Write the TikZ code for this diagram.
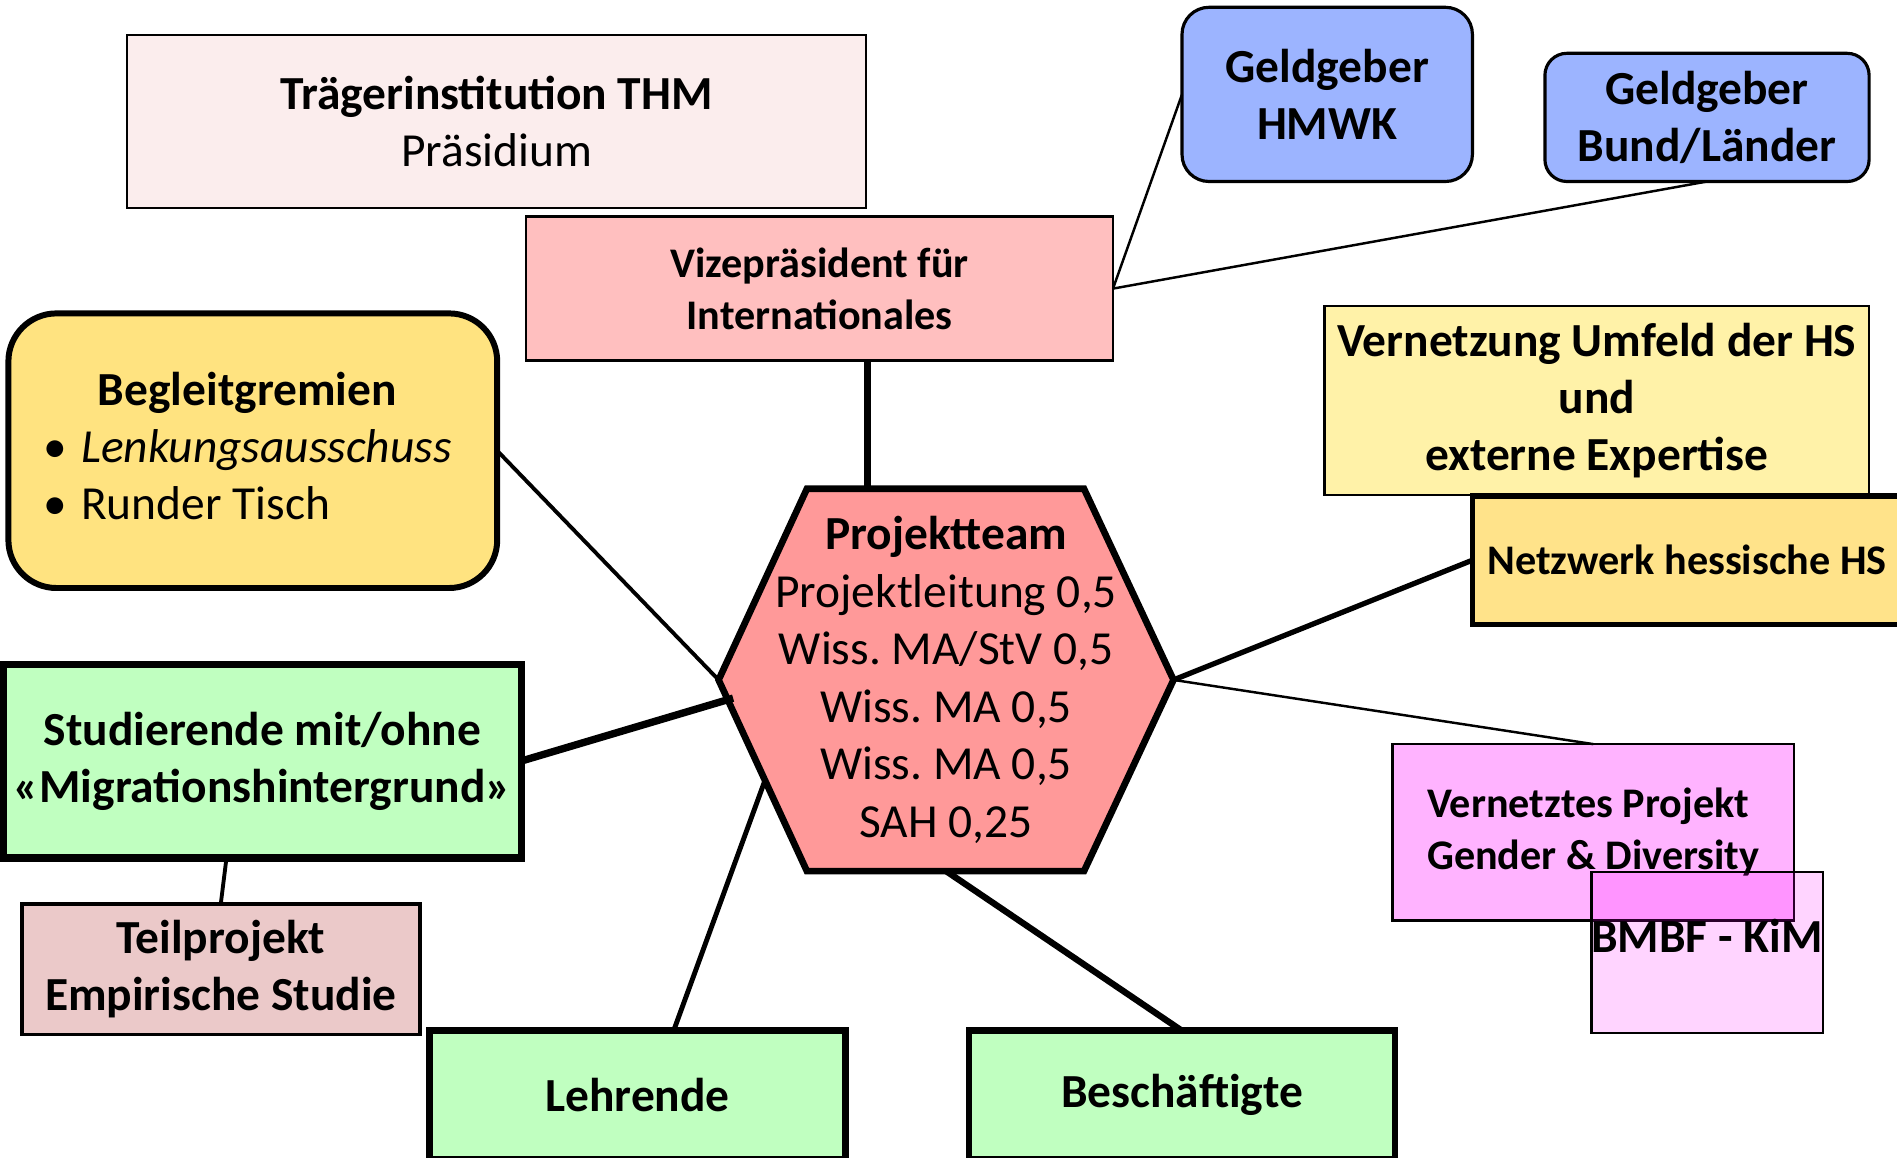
\documentclass[tikz,border=0pt]{standalone}
\usepackage{fontspec}
\setmainfont{Carlito}
\frenchspacing
\definecolor{traegerpink}{HTML}{FBEDED}
\definecolor{vizepink}{HTML}{FFBFBF}
\definecolor{geldblau}{HTML}{9CB4FF}
\definecolor{umfeldgelb}{HTML}{FFF2A8}
\definecolor{netzgelb}{HTML}{FFE38A}
\definecolor{begleitgelb}{HTML}{FFE380}
\definecolor{teamrot}{HTML}{FF9999}
\definecolor{zielgruen}{HTML}{C0FFC0}
\definecolor{teilrosa}{HTML}{EBC9C9}
\definecolor{vernlila}{HTML}{FFB3FF}
\definecolor{bmbflila}{RGB}{255,0,255}

\begin{document}
\begin{tikzpicture}[
  box/.style={draw, line width=0.7pt, inner sep=0pt, outer sep=0pt, align=center,
              font=\fontsize{13.5}{16.2}\selectfont\bfseries},
  heavybox/.style={box, line width=1.9pt},
  smalltext/.style={font=\fontsize{12}{14.8}\selectfont\bfseries},
  linkthin/.style={line width=0.7pt},
  linkmid/.style={line width=1.1pt},
  linkbold/.style={line width=1.8pt},
]
\useasboundingbox (0,0) rectangle (18.97,11.578);
\clip (0,0) rectangle (18.97,11.578);

% Projektteam
\coordinate (hexNW) at (8.069,6.690);
\coordinate (hexNE) at (10.840,6.690);
\coordinate (hexE) at (11.735,4.779);
\coordinate (hexSE) at (10.840,2.867);
\coordinate (hexSW) at (8.069,2.867);
\coordinate (hexW) at (7.186,4.779);
\coordinate (hexT) at (8.674,6.690);
\coordinate (hexS) at (9.461,2.867);
\coordinate (hexStud) at (7.331,4.597);
\coordinate (hexLehr) at (7.650,3.775);
\draw[line width=1.9pt, fill=teamrot] (hexNW) -- (hexNE) -- (hexE) -- (hexSE) -- (hexSW) -- (hexW) -- cycle;
\node[align=center, font=\fontsize{13.5}{16.4}\selectfont] (team) at (9.461,4.779) {
  \textbf{Projektteam}\\Projektleitung 0,5\\Wiss. MA/StV 0,5\\Wiss. MA 0,5\\Wiss. MA 0,5\\SAH 0,25
};

% Leitung und Geldgeber
\node[box, fill=traegerpink, minimum width=7.392cm, minimum height=1.730cm] (traeger) at (4.966,10.362) {
  Trägerinstitution THM\\\mdseries Präsidium
};
\node[box, smalltext, fill=vizepink, minimum width=5.868cm, minimum height=1.440cm] (vize) at (8.196,8.692) {
  Vizepräsident für\\Internationales
};
\node[box, fill=geldblau, line width=0.9pt, rounded corners=0.27cm,
      minimum width=2.904cm, minimum height=1.742cm] (hmwk) at (13.272,10.634) {Geldgeber\\HMWK};
\node[box, fill=geldblau, line width=0.9pt, rounded corners=0.22cm,
      minimum width=3.242cm, minimum height=1.282cm] (bund) at (17.070,10.404) {Geldgeber\\Bund/Länder};

% Vernetzung
\node[box, fill=umfeldgelb, minimum width=5.444cm, minimum height=1.887cm] (umfeld) at (15.969,7.573) {
  Vernetzung Umfeld der HS\\und\\externe Expertise
};
\node[heavybox, smalltext, line width=1.6pt, fill=netzgelb, minimum width=4.392cm, minimum height=1.282cm] (netz) at (16.919,5.976) {
  Netzwerk hessische HS
};
\node[box, smalltext, align=left, fill=vernlila, minimum width=4.017cm, minimum height=1.766cm] (vern) at (15.933,3.254) {
  Vernetztes Projekt\\Gender \& Diversity
};
\node[box, fill=bmbflila, fill opacity=0.17, text opacity=1, minimum width=2.274cm, minimum height=1.609cm,
      text height=8.6pt, text depth=8.6pt] (bmbf) at (17.070,2.051) {BMBF - KiM};

% Begleitgremien und Zielgruppen
\node[heavybox, line width=1.7pt, fill=begleitgelb, rounded corners=0.48cm, minimum width=4.888cm, minimum height=2.746cm,
      font=\fontsize{13.5}{16.2}\selectfont] (begleit) at (2.528,7.071) {
  \begin{tabular}{@{}l@{}}
    \multicolumn{1}{@{}c@{}}{\bfseries Begleitgremien}\\
    \makebox[0.8em][l]{\textbullet}\textit{Lenkungsausschuss}\\
    \makebox[0.8em][l]{\textbullet}Runder Tisch
  \end{tabular}
};
\node[heavybox, line width=2.1pt, fill=zielgruen, minimum width=5.178cm, minimum height=1.936cm] (stud) at (2.625,3.968) {
  Studierende mit/ohne\\«Migrationshintergrund»
};
\node[box, line width=1.1pt, fill=teilrosa, minimum width=3.980cm, minimum height=1.307cm] (teil) at (2.208,1.887) {
  Teilprojekt\\Empirische Studie
};
\node[heavybox, fill=zielgruen, minimum width=4.162cm, minimum height=1.282cm] (lehr) at (6.376,0.629) {Lehrende};
\node[heavybox, fill=zielgruen, minimum width=4.258cm, minimum height=1.282cm] (besch) at (11.820,0.629) {Beschäftigte};

% Verbindungen
\draw[linkbold] (hexT) -- (hexT |- vize.south);
\draw[linkthin] (vize.east) -- (hmwk.west);
\draw[linkthin] (vize.east) -- (bund.south);
\draw[linkmid] (begleit.east) -- (hexW);
\draw[line width=2.1pt] (stud.east) -- (hexStud);
\draw[linkmid] (teil.north) -- ([xshift=-0.36cm]stud.south);
\draw[line width=1.4pt] ([xshift=0.36cm]lehr.north) -- (hexLehr);
\draw[linkbold] (besch.north) -- (hexS);
\draw[line width=1.5pt] (hexE) -- (netz.west);
\draw[linkthin] (hexE) -- (vern.north);
\end{tikzpicture}
\end{document}
